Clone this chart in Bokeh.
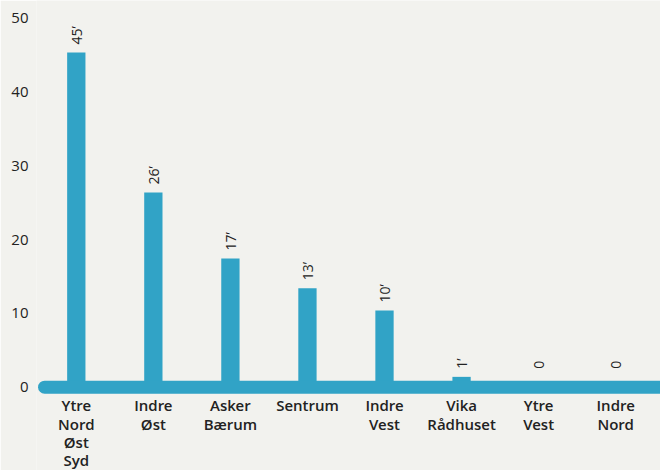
import numpy as np
from bokeh.plotting import figure
from bokeh.models import ColumnDataSource, FixedTicker, Range1d
from bokeh.core.properties import value
from bokeh.embed import file_html
from bokeh.resources import INLINE

# ---- data ----
categories = ["Ytre\nNord\nØst\nSyd", "Indre\nØst", "Asker\nBærum", "Sentrum",
              "Indre\nVest", "Vika\nRådhuset", "Ytre\nVest", "Indre\nNord"]
values = [45.4, 26.4, 17.45, 13.4, 10.4, 1.4, 0, 0]
value_labels = ["45’", "26’", "17’", "13’", "10’", "1’", "0", "0"]
y_ticks = [0, 10, 20, 30, 40, 50]

BG = "#f2f2ee"
BLUE = "#31a3c6"
TXT = "#222222"
FONT = "Open Sans"
FONT_SEMI = "Open Sans SemiBold"

xs = np.arange(len(categories))
src = ColumnDataSource(dict(
    x=xs, top=values, cat=categories, lab=value_labels,
    laby=np.maximum(np.array(values, dtype=float), 1.4),
    zero=np.zeros(len(categories)),
))

p = figure(width=660, height=470, output_backend="svg", toolbar_location=None,
           x_range=Range1d(-0.5166, 7.582), y_range=Range1d(-11.30, 52.44),
           min_border_left=36, min_border_right=0, min_border_top=0, min_border_bottom=0,
           background_fill_color=BG, border_fill_color=BG, outline_line_color=None)

p.xaxis.visible = False
p.xgrid.visible = False
p.ygrid.visible = False

ya = p.yaxis[0]
ya.ticker = FixedTicker(ticks=y_ticks)
ya.axis_line_color = None
ya.major_tick_line_color = None
ya.minor_tick_line_color = None
ya.major_tick_in = 0
ya.major_tick_out = 0
ya.major_label_standoff = 8
ya.major_label_text_font = FONT
ya.major_label_text_font_size = "15px"
ya.major_label_text_color = TXT

# bars
p.vbar(x="x", top="top", bottom=0, width=0.2375, source=src,
       fill_color=BLUE, line_color=None)

# baseline (thick rounded line)
p.line(x=[-0.412, 8.0], y=[0, 0], line_color=BLUE, line_width=13, line_cap="round")

# value labels (rotated)
p.text(x="x", y="laby", text="lab", source=src, angle=np.pi / 2,
       text_align="left", text_baseline="middle", y_offset=-8,
       text_font=value(FONT), text_font_size="14px", text_color=TXT)

# category labels
p.text(x="x", y="zero", text="cat", source=src, text_align="center",
       text_baseline="top", y_offset=8, text_line_height=0.92,
       text_font=value(FONT_SEMI), text_font_size="15px",
       text_color=TXT)

open("out.html", "w").write(file_html(p, INLINE))
